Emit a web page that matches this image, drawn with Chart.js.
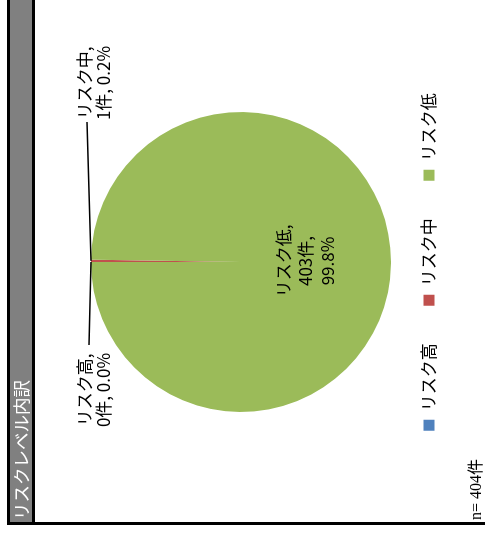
<!DOCTYPE html>
<html><head><meta charset="utf-8">
<script src="https://cdn.jsdelivr.net/npm/chart.js@4.4.1/dist/chart.umd.min.js"></script>
<style>
html,body{margin:0;padding:0;background:#fff;}
#rot{position:absolute;left:0;top:0;width:535px;height:485px;transform-origin:0 0;transform:translate(0,535px) rotate(-90deg);}
.blk{position:absolute;background:#000;}
#band{position:absolute;left:13px;top:10px;width:522px;height:22px;background:#808080;}
#title{position:absolute;left:15px;top:10px;height:22px;line-height:22px;color:#fff;font-size:17.5px;font-family:"Noto Sans CJK JP",sans-serif;white-space:nowrap;}
#note{position:absolute;left:15px;top:468px;line-height:16px;font-size:16px;font-family:"Liberation Serif","Noto Sans CJK JP",serif;white-space:nowrap;}
canvas{position:absolute;left:0;top:0;}
</style></head><body>
<div id="rot">
 <canvas id="c" width="535" height="485"></canvas>
 <div class="blk" style="left:10px;top:7px;width:525px;height:3px"></div>
 <div id="band"></div>
 <div class="blk" style="left:10px;top:32px;width:525px;height:3px"></div>
 <div class="blk" style="left:10px;top:7px;width:3px;height:478px"></div>
 <div id="title">リスクレベル内訳</div>
 <div id="note">n= 404件</div>
</div>
<script>
const categories = ['リスク高', 'リスク中', 'リスク低'];
const counts = [0, 1, 403];
const colors = ['#4F81BD', '#C0504D', '#9BBB59'];
const total = counts.reduce((a, b) => a + b, 0);

// label placement relative to pie centre (layout only)
const LABEL_POS = [
  {dx: -128, dy: -147, lh: 19, leader: {x: -83, y: -152}},
  {dx: 179, dy: -147, lh: 19, leader: {x: 140, y: -154}},
  {dx: 1, dy: 65, lh: 22, leader: null}
];
const FONT = '"Noto Sans CJK JP", sans-serif';

const sliceLabels = {
  id: 'sliceLabels',
  afterDatasetsDraw(chart) {
    const ctx = chart.ctx;
    const meta = chart.getDatasetMeta(0);
    const data = chart.data.datasets[0].data;
    ctx.save();
    ctx.font = '17px ' + FONT;
    ctx.fillStyle = '#000';
    ctx.strokeStyle = '#000';
    ctx.lineWidth = 1.3;
    ctx.textAlign = 'center';
    ctx.textBaseline = 'middle';
    meta.data.forEach((arc, i) => {
      const p = arc.getProps(['x', 'y', 'startAngle', 'endAngle', 'outerRadius'], true);
      const mid = (p.startAngle + p.endAngle) / 2;
      const pct = (data[i] / total * 100).toFixed(1) + '%';
      const pos = LABEL_POS[i];
      const lines = pos.leader
        ? [chart.data.labels[i] + ',', data[i] + '件, ' + pct]
        : [chart.data.labels[i] + ',', data[i] + '件,', pct];
      if (pos.leader) {
        ctx.beginPath();
        ctx.moveTo(p.x + Math.cos(mid) * p.outerRadius, p.y + Math.sin(mid) * p.outerRadius);
        ctx.lineTo(p.x + pos.leader.x, p.y + pos.leader.y);
        ctx.stroke();
      }
      const n = lines.length;
      lines.forEach((t, k) => {
        ctx.fillText(t, p.x + pos.dx, p.y + pos.dy + (k - (n - 1) / 2) * pos.lh);
      });
    });
    ctx.restore();
  }
};

new Chart(document.getElementById('c'), {
  type: 'pie',
  data: {
    labels: categories,
    datasets: [{data: counts, backgroundColor: colors, borderWidth: 0, radius: 150, clip: false}]
  },
  options: {
    responsive: false,
    animation: false,
    layout: {padding: {left: 11, right: 0, top: 99, bottom: 37.5}},
    plugins: {
      legend: {
        position: 'bottom',
        labels: {boxWidth: 11, boxHeight: 11, padding: 37.5, color: '#000', font: {size: 17, family: FONT}}
      },
      tooltip: {enabled: false}
    }
  },
  plugins: [sliceLabels]
});
</script>
</body></html>
